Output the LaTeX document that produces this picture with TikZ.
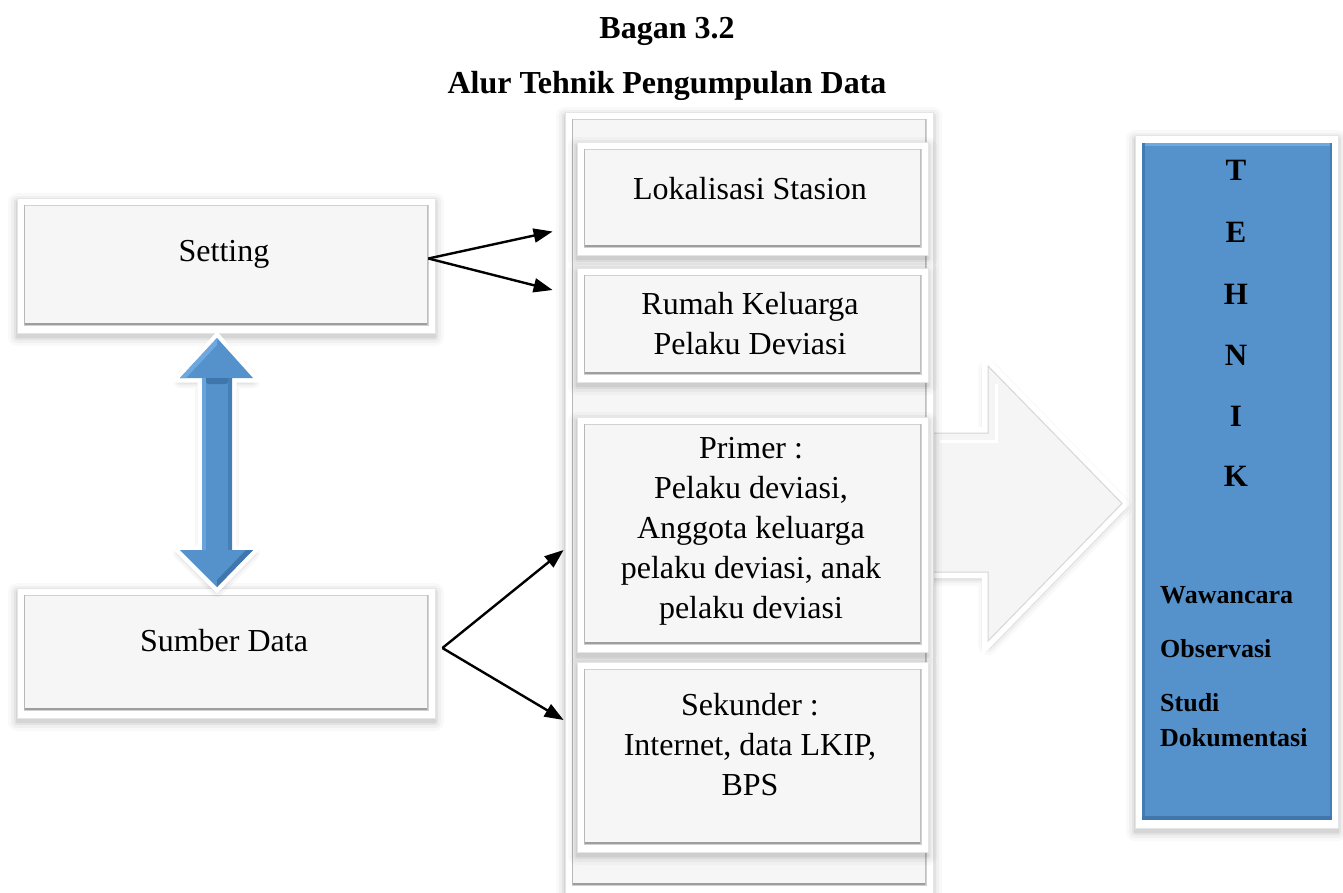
\documentclass[tikz,border=0pt]{standalone}
\usepackage{fontspec}
\setmainfont{Liberation Serif}
\usetikzlibrary{arrows.meta,fit}
\definecolor{boxgrey}{HTML}{F6F6F6}
\definecolor{tblue}{HTML}{5592CC}
\definecolor{tbluedark}{HTML}{3F76AC}
\definecolor{tbluelight}{HTML}{6DA9E0}
\tikzset{
  outerbox/.style={draw=black!10, fill=white, line width=0.8pt, inner sep=0pt},
  txt/.style={font=\fontsize{32}{40}\selectfont, align=center, inner sep=0pt},
  ttl/.style={font=\fontsize{32}{40}\selectfont\bfseries, inner sep=0pt, anchor=base},
  letter/.style={font=\fontsize{31}{38}\selectfont\bfseries, inner sep=0pt},
  lst/.style={font=\fontsize{26}{35}\selectfont\bfseries, align=left, inner sep=0pt, anchor=west},
  conn/.style={-{Triangle[length=19pt,width=14pt]}, line width=2.4pt, black},
}
\newcommand\softshadow[4]{%
  \foreach \s/\o in {9/0.025,6/0.035,3/0.05,1/0.06}{%
    \fill[black,opacity=\o,rounded corners=\s pt] (#1-\s, #2-\s+4) rectangle (#3+\s, #4+\s+4);}}
\newcommand\bevbox[5]{%
  \softshadow{#2}{#3}{#4}{#5}
  \node[outerbox, fit={(#2,#3)(#4,#5)}] (#1) {};
  \fill[boxgrey] (#2+7,#3+7) rectangle (#4-7,#5-8);
  \draw[black!18, line width=1pt] (#2+7,#3+7) rectangle (#4-7,#5-8);
  \draw[black!38, line width=2.5pt] (#2+7,#5-9) -- (#4-7,#5-9);
  \draw[black!28, line width=1.5pt] (#2+7.5,#3+7) -- (#2+7.5,#5-8);
  \draw[black!25, line width=1.5pt] (#4-7.5,#3+7) -- (#4-7.5,#5-8);
}
\begin{document}
\begin{tikzpicture}[x=1pt,y=-1pt]
\useasboundingbox (0,0) rectangle (1343,892);
\clip (0,0) rectangle (1343,892);
\fill[white] (0,0) rectangle (1343,892);

% titles
\node[ttl] (title1) at (667,38) {Bagan 3.2};
\node[ttl] (title2) at (667,93) {Alur Tehnik Pengumpulan Data};

% big arrow (behind column)
\foreach \w/\o in {20/0.025,14/0.035,9/0.05}{%
  \draw[black,opacity=\o,line width=\w pt,line join=round]
    (900,437)--(988,437)--(988,370)--(1122,507.5)--(988,645)--(988,576)--(900,576)--cycle;}
\draw[white,line width=12pt,line join=miter]
  (900,433)--(988,433)--(988,366)--(1122,503.5)--(988,641)--(988,572)--(900,572)--cycle;
\fill[black!4]
  (900,433)--(988,433)--(988,366)--(1122,503.5)--(988,641)--(988,572)--(900,572)--cycle;
\draw[white,line width=3pt]
  (940,441)--(996,441)--(996,384);
\draw[black!16,line width=1pt]
  (900,433)--(988,433)--(988,366)--(1122,503.5)--(988,641)--(988,572)--(900,572);

% middle column
\bevbox{col}{565}{112}{933}{893}
\bevbox{lok}{577}{142}{928}{255}
\bevbox{rumah}{577}{268}{928}{382}
\bevbox{primer}{577}{417}{928}{652}
\bevbox{sekunder}{577}{662}{928}{852}

\node[txt] (loktxt) at (750,189) {Lokalisasi Stasion};
\node[txt] (rumahtxt) at (750,324) {Rumah Keluarga\\Pelaku Deviasi};
\node[txt] (primertxt) at (751,531) {Primer :\\ Pelaku deviasi,\\Anggota keluarga\\pelaku deviasi, anak\\pelaku deviasi};
\node[txt] (sekundertxt) at (750,745) {Sekunder :\\Internet, data LKIP,\\BPS};

% left boxes
\bevbox{setting}{17}{198}{435}{333}
\bevbox{sumber}{17}{588}{435}{718}
\node[txt] (settingtxt) at (224,254) {Setting};
\node[txt] (sumbertxt) at (224,641) {Sumber Data};

% double arrow
\foreach \w/\o in {14/0.03,9/0.04,5/0.05}{%
  \draw[black,opacity=\o,line width=\w pt,line join=round]
    (217,341)--(253,381)--(232,381)--(232,553)--(253,553)--(217,590)--(180,553)--(202,553)--(202,381)--(180,381)--cycle;}
\draw[white,line width=9pt,line join=miter]
  (217,338)--(253,378)--(232,378)--(232,550)--(253,550)--(217,587)--(180,550)--(202,550)--(202,378)--(180,378)--cycle;
\fill[tblue]
  (217,338)--(253,378)--(232,378)--(232,550)--(253,550)--(217,587)--(180,550)--(202,550)--(202,378)--(180,378)--cycle;
\fill[tbluelight] (217,338)--(180,378)--(186,378)--(217,345)--cycle;
\fill[tbluedark] (202,378)--(232,378)--(226,384)--(208,384)--cycle;
\fill[tbluedark] (217,587)--(253,550)--(246,550)--(217,580)--cycle;
\fill[tbluelight!80!tblue] (202,378)--(206,378)--(206,550)--(202,550)--cycle;
\fill[tbluedark!70!tblue] (228,378)--(232,378)--(232,550)--(228,550)--cycle;

% blue box
\softshadow{1135}{135}{1338}{828}
\node[outerbox, fit={(1135,135)(1338,828)}] (tehnik) {};
\fill[tblue] (1142,143) rectangle (1332,820);
\draw[tbluelight,line width=3pt] (1142,144.5) -- (1332,144.5);
\draw[tbluedark!80!tblue,line width=3pt] (1143.5,143) -- (1143.5,820);
\draw[tbluedark!70!tblue,line width=2pt] (1331,143) -- (1331,820);
\draw[tbluedark,line width=3.5pt] (1142,818) -- (1332,818);

\node[letter] (lT) at (1236,170) {T};
\node[letter] (lE) at (1236,232) {E};
\node[letter] (lH) at (1236,294) {H};
\node[letter] (lN) at (1236,355) {N};
\node[letter] (lI) at (1236,416) {I};
\node[letter] (lK) at (1236,476) {K};
\node[lst] (wawancara) at (1160,595) {Wawancara};
\node[lst] (observasi) at (1160,649) {Observasi};
\node[lst] (studi) at (1160,720) {Studi\\Dokumentasi};

% connectors
\draw[conn] ([shift={(-7,-7)}]setting.east) -- ([shift={(-24,33)}]lok.west);
\draw[conn] ([shift={(-7,-7)}]setting.east) -- ([shift={(-24,-35)}]rumah.west);
\draw[conn] ([shift={(7,-5)}]sumber.east) -- ([shift={(-13,15.5)}]primer.west);
\draw[conn] ([shift={(7,-5)}]sumber.east) -- ([shift={(-13,-37)}]sekunder.west);
\end{tikzpicture}
\end{document}
